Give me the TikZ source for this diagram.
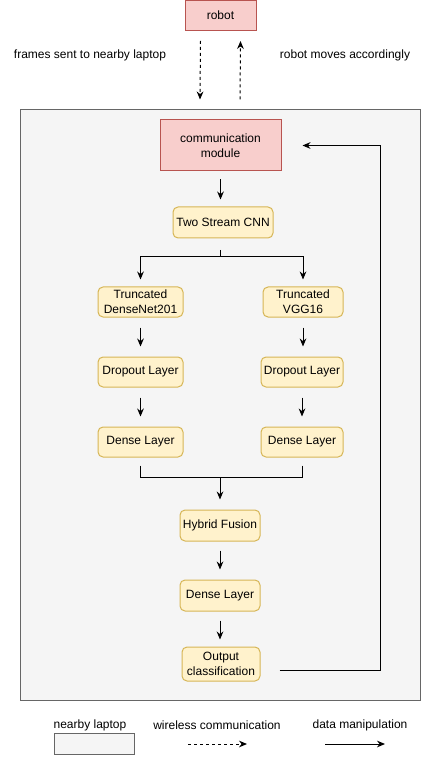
\documentclass[tikz,border=0pt]{standalone}
\usepackage{fontspec}
\setmainfont{Liberation Sans}
\usetikzlibrary{arrows.meta,calc}
\definecolor{redfill}{HTML}{F8CECC}
\definecolor{redline}{HTML}{B85450}
\definecolor{yelfill}{HTML}{FFF2CC}
\definecolor{yelline}{HTML}{D6B656}
\definecolor{grayfill}{HTML}{F5F5F5}
\definecolor{grayline}{HTML}{666666}
\begin{document}
\begin{tikzpicture}[x=0.75pt,y=-0.75pt,
  every node/.style={font=\fontsize{9}{11.25}\selectfont, text=black, inner sep=0pt},
  redbox/.style={draw=redline, fill=redfill, line width=0.75pt, align=center},
  yelbox/.style={draw=yelline, fill=yelfill, line width=0.75pt, rounded corners=3.75pt, align=center},
  graybox/.style={draw=grayline, fill=grayfill, line width=0.75pt},
  arr/.style={-{Stealth[length=6pt,width=5pt]}, line width=0.75pt, black},
  darr/.style={arr, dash pattern=on 2.25pt off 2.25pt},
  plain/.style={line width=0.75pt, black},
  lbl/.style={}]
\useasboundingbox (0,0) rectangle (421,762);
% laptop area
\node[graybox, minimum width=300pt, minimum height=442.5pt] (laptop) at (220,405) {};
% robot
\node[redbox, minimum width=53.25pt, minimum height=22.5pt] (robot) at (220.5,15.5) {robot};
\node[lbl] (lf) at (90,55) {frames sent to nearby laptop};
\node[lbl] (lr) at (345,55) {robot moves accordingly};
\draw[darr] ($(robot.south)+(-20,10)$) -- ($(laptop.north)+(-20,-10)$);
\draw[darr] ($(laptop.north)+(20,-10)$) -- ($(robot.south)+(20,10)$);
% nodes
\node[redbox, minimum width=90.75pt, minimum height=38.25pt] (comm) at (220.5,145.5) {communication\\module};
\node[yelbox, minimum width=75pt, minimum height=23.25pt] (cnn) at (223,222.5) {Two Stream CNN};
\node[yelbox, minimum width=63.75pt, minimum height=22.5pt] (tdn) at (140.5,302) {Truncated\\DenseNet201};
\node[yelbox, minimum width=60pt, minimum height=22.5pt] (tvgg) at (303,302) {Truncated\\VGG16};
\node[yelbox, minimum width=63.75pt, minimum height=22.5pt] (dropL) at (140.5,372) {Dropout Layer};
\node[yelbox, minimum width=61.5pt, minimum height=22.5pt] (dropR) at (302,372) {Dropout Layer};
\node[yelbox, minimum width=63.75pt, minimum height=22.5pt] (denseL) at (140.5,442) {Dense Layer};
\node[yelbox, minimum width=61.5pt, minimum height=22.5pt] (denseR) at (302,442) {Dense Layer};
\node[yelbox, minimum width=60pt, minimum height=23.25pt] (hybrid) at (220,525.5) {Hybrid Fusion};
\node[yelbox, minimum width=60pt, minimum height=23.25pt] (dense) at (220,595.5) {Dense Layer};
\node[yelbox, minimum width=58.5pt, minimum height=25.5pt] (output) at (221,664) {Output\\classification};
% connectors
\draw[arr, shorten <=6pt, shorten >=5.25pt] (comm.south) -- (comm.south |- cnn.north);
\coordinate (sjt) at (220,250);
\coordinate (sj) at (220,257);
\draw[arr, shorten >=5.25pt] (sjt) -- (sj) -| (tdn.north);
\draw[arr, shorten >=5.25pt] (sj) -| (tvgg.north);
\draw[arr, shorten <=7.5pt, shorten >=7.5pt] (tdn.south) -- (dropL.north);
\draw[arr, shorten <=7.5pt, shorten >=7.5pt] (tvgg.south) -- (tvgg.south |- dropR.north);
\draw[arr, shorten <=7.5pt, shorten >=7.5pt] (dropL.south) -- (denseL.north);
\draw[arr, shorten <=7.5pt, shorten >=7.5pt] (dropR.south) -- (denseR.north);
\coordinate (mj) at (220,477);
\draw[plain] ([yshift=-6pt]denseL.south) |- (mj);
\draw[plain] ([yshift=-6pt]denseR.south) |- (mj);
\draw[arr, shorten >=7.5pt] (mj) -- (hybrid.north);
\draw[arr, shorten <=6.75pt, shorten >=7.5pt] (hybrid.south) -- (dense.north);
\draw[arr, shorten <=6.75pt, shorten >=5.25pt] (dense.south) -- (dense.south |- output.north);
\coordinate (fb) at (380,670);
\draw[arr, shorten >=15.75pt] ($(output.east |- fb)+(19,0)$) -- (fb) |- (comm.east);
% legend
\node[lbl] (leg1) at (90,725) {nearby laptop};
\node[lbl] (leg2) at (217,725) {wireless communication};
\node[lbl] (leg3) at (360,725) {data manipulation};
\node[graybox, minimum width=60pt, minimum height=15.75pt] (legbox) at (94,743.5) {};
\coordinate (d1) at (188,744);
\coordinate (d2) at (247,744);
\coordinate (s1) at (325,744);
\coordinate (s2) at (385,744);
\draw[darr] (d1) -- (d2);
\draw[arr] (s1) -- (s2);
\end{tikzpicture}
\end{document}
